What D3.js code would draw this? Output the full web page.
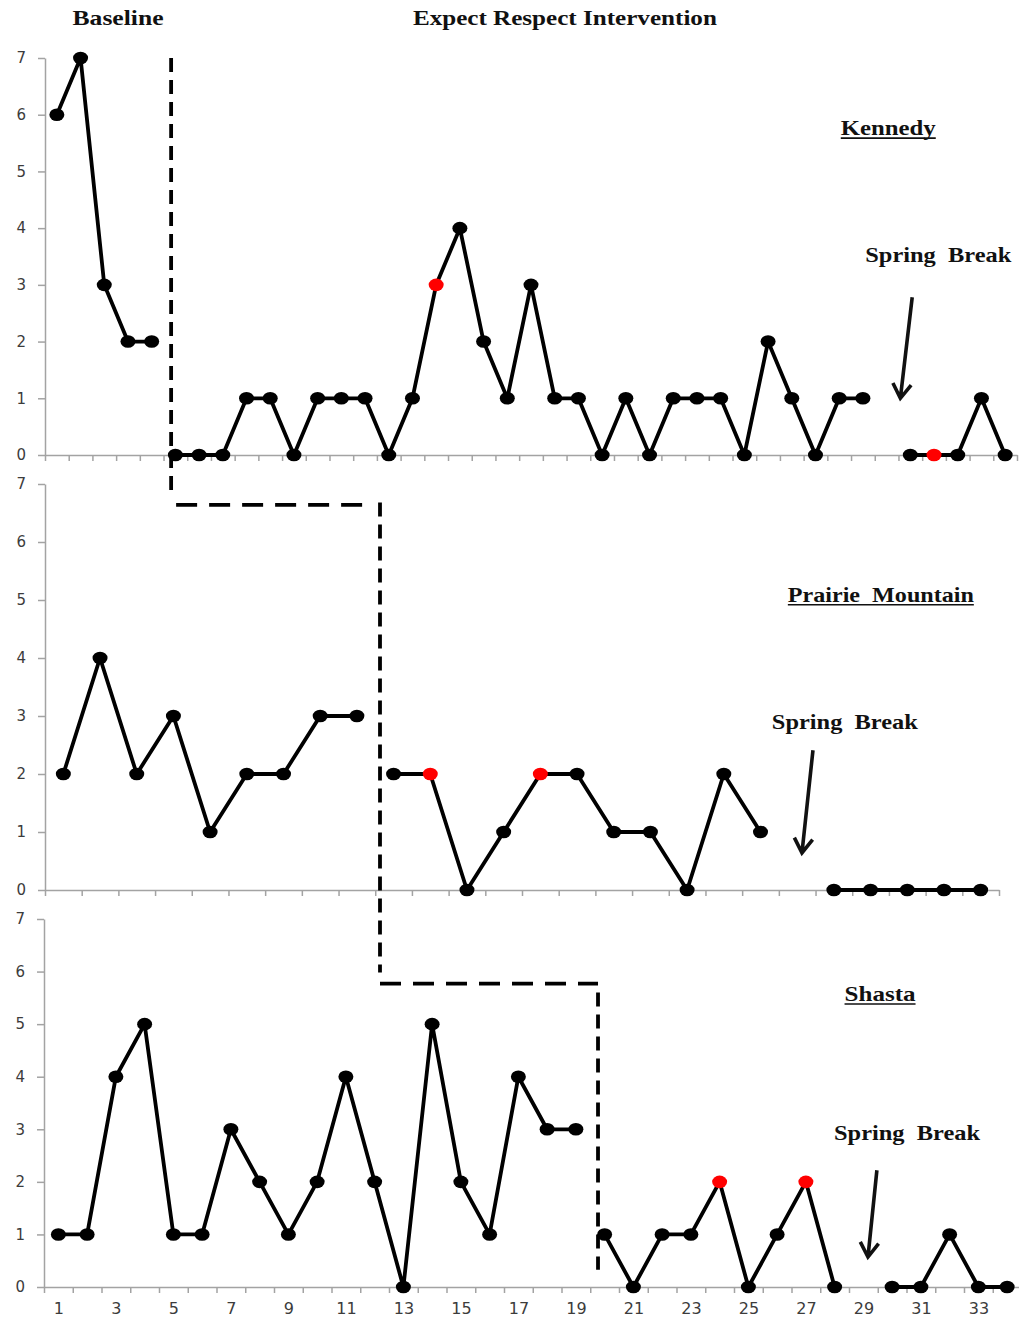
<!DOCTYPE html>
<html>
<head>
<meta charset="utf-8">
<script src="https://cdn.jsdelivr.net/npm/d3@7/dist/d3.min.js"></script>
<style>
  html, body { margin: 0; padding: 0; background: #fff; }
  svg { display: block; }
  .serif { font-family: "Liberation Serif", "Times New Roman", serif; font-weight: bold; fill: #111; }
  .tick text { font-family: "DejaVu Sans", Verdana, sans-serif; fill: #3c3c3c; }
</style>
</head>
<body>
<svg id="chart" width="1019" height="1323"></svg>
<script>
// Weekly incident counts per school (null = no school that week, spring break)
const kennedyCounts = [6, 7, 3, 2, 2,
  0, 0, 0, 1, 1, 0, 1, 1, 1, 0, 1, 3, 4, 2, 1, 3, 1, 1, 0, 1, 0, 1, 1, 1, 0, 2, 1, 0, 1, 1,
  null,
  0, 0, 0, 1, 0];
const kennedyBaselineWeeks = 5;
const kennedyRedWeeks = [17, 38];

const prairieCounts = [2, 4, 2, 3, 1, 2, 2, 3, 3,
  2, 2, 0, 1, 2, 2, 1, 1, 0, 2, 1,
  null,
  0, 0, 0, 0, 0];
const prairieBaselineWeeks = 9;
const prairieRedWeeks = [11, 14];

const shastaCounts = [1, 1, 4, 5, 1, 1, 3, 2, 1, 2, 4, 2, 0, 5, 2, 1, 4, 3, 3,
  1, 0, 1, 1, 2, 0, 1, 2, 0,
  null,
  0, 0, 1, 0, 0];
const shastaBaselineWeeks = 19;
const shastaRedWeeks = [24, 27];

const yTickValues = [0, 1, 2, 3, 4, 5, 6, 7];
const xTickLabels = [1, 3, 5, 7, 9, 11, 13, 15, 17, 19, 21, 23, 25, 27, 29, 31, 33];

const svg = d3.select("#chart");
const axisColor = "#a3a3a3";

// Panel layout (pixel frame of each small multiple) and annotation anchors in data units
const panels = [
  { name: "Kennedy", counts: kennedyCounts, baseline: kennedyBaselineWeeks, red: kennedyRedWeeks,
    left: 45, right: 1017, top: 58, bottom: 455,
    nameAt: [36.07, 5.64], nameLen: 95,
    breakAt: [35.1, 3.41],
    arrow: [[37.08, 2.78], [36.58, 1.0]],
    xLabels: false },
  { name: "Prairie  Mountain", counts: prairieCounts, baseline: prairieBaselineWeeks, red: prairieRedWeeks,
    left: 45, right: 999, top: 484, bottom: 890,
    nameAt: [23.28, 4.97], nameLen: 186,
    breakAt: [20.31, 2.77],
    arrow: [[21.43, 2.41], [21.13, 0.64]],
    xLabels: false },
  { name: "Shasta", counts: shastaCounts, baseline: shastaBaselineWeeks, red: shastaRedWeeks,
    left: 44, right: 1021.5, top: 919, bottom: 1287,
    nameAt: [29.58, 5.44], nameLen: 71,
    breakAt: [27.98, 2.79],
    arrow: [[29.47, 2.22], [29.16, 0.57]],
    xLabels: true }
];

panels.forEach(p => {
  const n = p.counts.length;
  p.x = d3.scaleLinear().domain([0.5, n + 0.5]).range([p.left, p.right]);
  p.y = d3.scaleLinear().domain([0, 7]).range([p.bottom, p.top]);
});

panels.forEach(p => {
  const g = svg.append("g");
  const n = p.counts.length;

  // y axis
  const ya = g.append("g")
    .attr("transform", `translate(${p.left},0)`)
    .call(d3.axisLeft(p.y).tickValues(yTickValues).tickFormat(d3.format("d"))
      .tickSize(7).tickSizeOuter(0).tickPadding(12));
  ya.selectAll("text").style("font-size", "15px");

  // x axis with tick marks between weeks
  const xa = g.append("g")
    .attr("transform", `translate(0,${p.bottom})`)
    .call(d3.axisBottom(p.x).tickValues(d3.range(0, n + 1).map(i => i + 0.5))
      .tickSize(6).tickSizeOuter(0).tickFormat(""));

  [ya, xa].forEach(a => {
    a.select(".domain").attr("stroke", axisColor).attr("stroke-width", 1.5);
    a.selectAll(".tick line").attr("stroke", axisColor).attr("stroke-width", 1.5);
  });

  if (p.xLabels) {
    const xl = g.append("g")
      .attr("transform", `translate(0,${p.bottom})`)
      .call(d3.axisBottom(p.x).tickValues(xTickLabels).tickSize(0).tickPadding(16).tickFormat(d3.format("d")));
    xl.select(".domain").remove();
    xl.selectAll("text").style("font-size", "16px");
  }

  // Data lines: baseline phase, intervention phase, broken at missing weeks
  const pts = p.counts.map((v, i) => ({ week: i + 1, v }));
  const line = d3.line()
    .defined(d => d.v !== null)
    .x(d => p.x(d.week))
    .y(d => p.y(d.v));
  [pts.slice(0, p.baseline), pts.slice(p.baseline)].forEach(seg => {
    g.append("path")
      .attr("d", line(seg))
      .attr("fill", "none")
      .attr("stroke", "#000")
      .attr("stroke-width", 3.8)
      .attr("stroke-linejoin", "round");
  });

  g.selectAll("ellipse.pt")
    .data(pts.filter(d => d.v !== null))
    .join("ellipse")
    .attr("class", "pt")
    .attr("cx", d => p.x(d.week))
    .attr("cy", d => p.y(d.v))
    .attr("rx", 7.5)
    .attr("ry", 6.3)
    .attr("fill", d => p.red.includes(d.week) ? "#ff0000" : "#000");

  // School name, underlined
  g.append("text")
    .attr("class", "serif")
    .attr("x", p.x(p.nameAt[0]))
    .attr("y", p.y(p.nameAt[1]))
    .attr("text-anchor", "middle")
    .attr("textLength", p.nameLen)
    .attr("lengthAdjust", "spacingAndGlyphs")
    .style("font-size", "21px")
    .style("white-space", "pre")
    .text(p.name);
  g.append("line")
    .attr("x1", p.x(p.nameAt[0]) - p.nameLen / 2)
    .attr("x2", p.x(p.nameAt[0]) + p.nameLen / 2)
    .attr("y1", p.y(p.nameAt[1]) + 3)
    .attr("y2", p.y(p.nameAt[1]) + 3)
    .attr("stroke", "#111")
    .attr("stroke-width", 1.6);

  // Spring break note and arrow
  g.append("text")
    .attr("class", "serif")
    .attr("x", p.x(p.breakAt[0]))
    .attr("y", p.y(p.breakAt[1]))
    .attr("textLength", 146)
    .attr("lengthAdjust", "spacingAndGlyphs")
    .style("font-size", "21px")
    .style("white-space", "pre")
    .text("Spring  Break");

  const [a0, a1] = p.arrow;
  const x0 = p.x(a0[0]), y0 = p.y(a0[1]), x1 = p.x(a1[0]), y1 = p.y(a1[1]);
  const ang = Math.atan2(y1 - y0, x1 - x0);
  const headLen = 17, spread = Math.PI / 5.5;
  const arrowPath = d3.path();
  arrowPath.moveTo(x0, y0);
  arrowPath.lineTo(x1, y1);
  arrowPath.moveTo(x1 - headLen * Math.cos(ang - spread), y1 - headLen * Math.sin(ang - spread));
  arrowPath.lineTo(x1, y1);
  arrowPath.lineTo(x1 - headLen * Math.cos(ang + spread), y1 - headLen * Math.sin(ang + spread));
  g.append("path")
    .attr("d", arrowPath.toString())
    .attr("fill", "none")
    .attr("stroke", "#111")
    .attr("stroke-width", 3.6)
    .attr("stroke-linejoin", "miter");
});

// Staggered phase-change line running through the three panels
const [pK, pP, pS] = panels;
const phaseSegments = [
  { x1: pK.x(5.82), y1: pK.y(7), x2: pK.x(5.82), y2: pP.y(6.78), dash: "14 8" },
  { x1: pK.x(5.82) + 5, y1: pP.y(6.64), x2: pP.x(9.45), y2: pP.y(6.64), dash: "21 12" },
  { x1: pP.x(9.63), y1: pP.y(6.68), x2: pP.x(9.63), y2: pS.y(5.98), dash: "14 8" },
  { x1: pP.x(9.63), y1: pS.y(5.77), x2: pS.x(19.77), y2: pS.y(5.77), dash: "21 12" },
  { x1: pS.x(19.77), y1: pS.y(5.6), x2: pS.x(19.77), y2: pS.y(0.33), dash: "14 8" }
];
svg.append("g").selectAll("line")
  .data(phaseSegments)
  .join("line")
  .attr("x1", d => d.x1).attr("y1", d => d.y1)
  .attr("x2", d => d.x2).attr("y2", d => d.y2)
  .attr("stroke", "#000")
  .attr("stroke-width", 3.8)
  .attr("stroke-dasharray", d => d.dash);

// Phase titles
const titles = [
  { text: "Baseline", x: pK.x(3.58), len: 91 },
  { text: "Expect Respect Intervention", x: pK.x(22.43), len: 304 }
];
svg.append("g").selectAll("text")
  .data(titles)
  .join("text")
  .attr("class", "serif")
  .attr("x", d => d.x)
  .attr("y", 25)
  .attr("text-anchor", "middle")
  .attr("textLength", d => d.len)
  .attr("lengthAdjust", "spacingAndGlyphs")
  .style("font-size", "21px")
  .text(d => d.text);
</script>
</body>
</html>
